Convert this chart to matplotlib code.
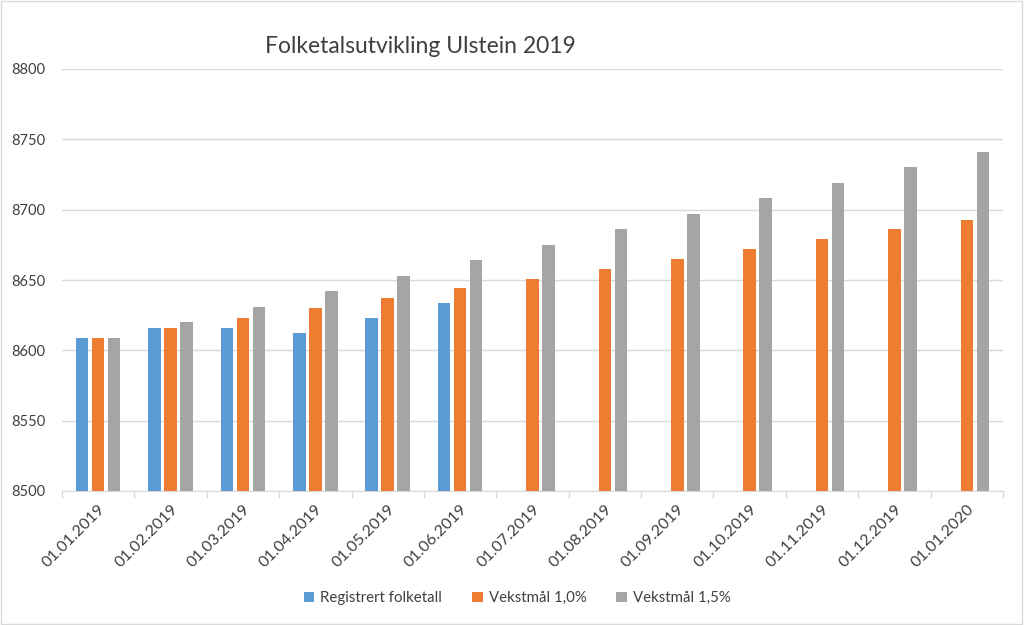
import numpy as np
import matplotlib
matplotlib.use("Agg")
import matplotlib.pyplot as plt
from matplotlib.patches import Rectangle

plt.rcParams["font.family"] = ["Lato", "DejaVu Sans"]

# ---------------------------------------------------
# Data
# ---------------------------------------------------
dates = ["01.01.2019", "01.02.2019", "01.03.2019", "01.04.2019", "01.05.2019",
         "01.06.2019", "01.07.2019", "01.08.2019", "01.09.2019", "01.10.2019",
         "01.11.2019", "01.12.2019", "01.01.2020"]
registrert = [8609, 8616, 8616, 8612, 8623, 8634]
vekst_10 = [8609, 8616, 8623, 8630, 8637, 8644, 8651, 8658, 8665, 8672, 8679, 8686, 8693]
vekst_15 = [8609, 8620, 8631, 8642, 8653, 8664, 8675, 8686, 8697, 8708, 8719, 8730, 8741]
yticks = [8500, 8550, 8600, 8650, 8700, 8750, 8800]

col_blue = "#5B9BD5"
col_orange = "#ED7D31"
col_grey = "#A5A5A5"

# ---------------------------------------------------
# Plot
# ---------------------------------------------------
fig = plt.figure(figsize=(10.24, 6.25), dpi=100)
ax = fig.add_axes([0.0605, 0.2144, 0.919, 0.6752])

x = np.arange(len(dates))
w = 0.173
off = 0.221
ax.bar(x[:len(registrert)] - off, registrert, width=w, color=col_blue,
       label="Registrert folketall", zorder=3)
ax.bar(x, vekst_10, width=w, color=col_orange, label="Vekstmål 1,0%", zorder=3)
ax.bar(x + off, vekst_15, width=w, color=col_grey, label="Vekstmål 1,5%", zorder=3)

ax.set_xlim(-0.5, len(dates) - 0.5)
ax.set_ylim(8500, 8800)
ax.set_yticks(yticks)
ax.set_yticklabels([str(v) for v in yticks], fontsize=10.5, color="#404040")
ax.tick_params(axis="y", length=0, pad=12)

ax.set_xticks(x)
ax.set_xticklabels(dates, rotation=45, ha="right", rotation_mode="anchor",
                   fontsize=11.5, color="#404040")
ax.tick_params(axis="x", which="major", length=0, pad=8)
ax.set_xticks(np.arange(-0.5, len(dates)), minor=True)
ax.tick_params(axis="x", which="minor", length=5, color="#d9d9d9", width=1)

ax.grid(axis="y", color="#d9d9d9", linewidth=1, zorder=0)
for s in ["top", "right", "left"]:
    ax.spines[s].set_visible(False)
ax.spines["bottom"].set_color("#d9d9d9")

fig.text(0.411, 0.926, "Folketalsutvikling Ulstein 2019", ha="center", va="center",
         fontsize=16.5, color="#404040")

fig.legend(loc="center", bbox_to_anchor=(0.505, 0.043), ncol=3, frameon=False,
           fontsize=10.8, handlelength=0.7, handleheight=0.7, columnspacing=2.0,
           handletextpad=0.4, labelcolor="#404040")

fig.patches.append(Rectangle((0.001, 0.001), 0.997, 0.997, transform=fig.transFigure,
                             fill=False, edgecolor="#d9d9d9", linewidth=1))

fig.savefig("out.png", dpi=100)
